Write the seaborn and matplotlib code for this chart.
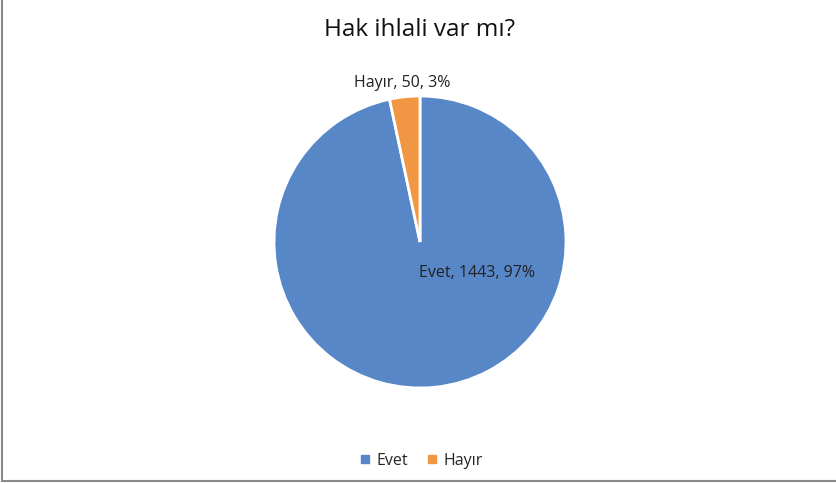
import matplotlib
matplotlib.use("Agg")
import matplotlib.pyplot as plt
import seaborn as sns
from matplotlib.lines import Line2D

sns.set_theme(style="white")
plt.rcParams['font.family'] = ['Open Sans', 'DejaVu Sans']

title = "Hak ihlali var mı?"
categories = ["Evet", "Hayır"]
values = [1443, 50]
percents = ["97%", "3%"]
colors = ["#5787C7", "#F19744"]

W, H = 837, 483
fig = plt.figure(figsize=(W / 100, H / 100), dpi=100)
fig.patch.set_facecolor("white")

cx, cy, r = 420, 241, 146
ax = fig.add_axes([(cx - r) / W, (cy - r) / H, 2 * r / W, 2 * r / H])
wedges, _ = ax.pie(values, colors=colors, startangle=90, counterclock=False,
                   wedgeprops=dict(edgecolor="white", linewidth=2))
ax.set_xlim(-1, 1)
ax.set_ylim(-1, 1)
ax.set_aspect("equal")
ax.axis("off")

labels = [f"{c}, {v}, {p}" for c, v, p in zip(categories, values, percents)]
label_pos = [(0.39, -0.21), (-0.12, 1.09)]
for lab, (x, y) in zip(labels, label_pos):
    ax.text(x, y, lab, ha="center", va="center", fontsize=11.5, color="#222222", clip_on=False)

fig.text(cx / W, 1 - 30 / H, title, ha="center", va="center", fontsize=17.5, color="#111111")

handles = [Line2D([0], [0], marker="s", linestyle="", markersize=6,
                  markerfacecolor=c, markeredgecolor=c) for c in colors]
fig.legend(handles, categories, loc="center", bbox_to_anchor=(cx / W, 1 - 461 / H),
           ncol=2, frameon=False, fontsize=11.5, handletextpad=0.2, columnspacing=1.0,
           handlelength=1.0)

# figure border (left and bottom)
fig.add_artist(Line2D([2 / W, 2 / W], [1 - 481 / H, 1], transform=fig.transFigure,
                      color="#8a8a8a", linewidth=1.5))
fig.add_artist(Line2D([2 / W, 1], [1 - 481 / H, 1 - 481 / H], transform=fig.transFigure,
                      color="#8a8a8a", linewidth=1.5))

fig.savefig("out.png", dpi=100, facecolor="white")
